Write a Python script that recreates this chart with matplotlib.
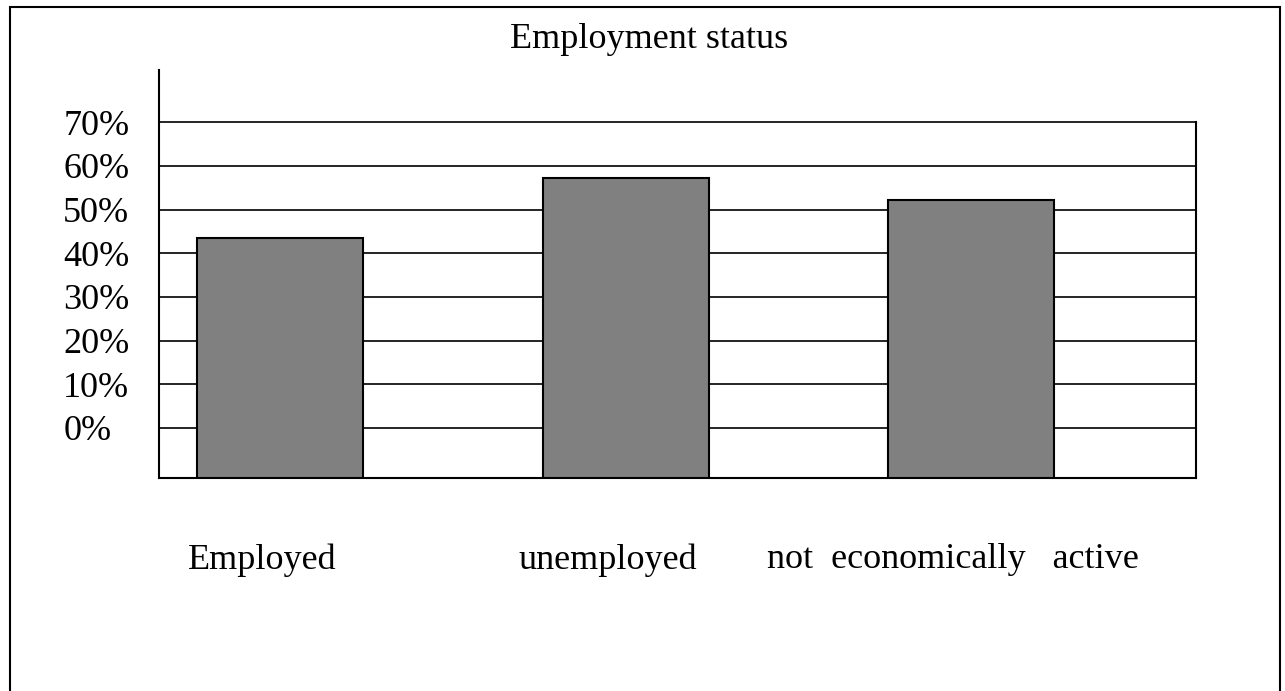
import matplotlib.pyplot as plt
from matplotlib.patches import Rectangle
from matplotlib.transforms import ScaledTranslation

# -----------------------------
# data
# -----------------------------
categories = ["Employed", "unemployed", "not  economically   active"]
shares = [43.5, 57.3, 52.2]  # %
tick_vals = [0, 10, 20, 30, 40, 50, 60, 70]
tick_labels = ["0%", "10%", "20%", "30%", "40%", "50%", "60%", "70%"]

YMIN, YMAX = -11.5, 82.0

plt.rcParams["font.family"] = ["Liberation Serif", "DejaVu Serif"]

fig = plt.figure(figsize=(12.85, 6.91), dpi=100)
ax = fig.add_axes([159 / 1285, 1 - 478 / 691, 1037 / 1285, 408 / 691])

# outer frame around the whole picture
fig.patches.append(Rectangle((10 / 1285, -0.05), 1270 / 1285, 1.05 - 7 / 691,
                             transform=fig.transFigure, fill=False,
                             edgecolor="black", linewidth=1.5))

x = list(range(len(categories)))
ax.bar(x, [v - YMIN for v in shares], bottom=YMIN, width=0.48,
       color="#808080", edgecolor="black", linewidth=1.5, zorder=3)

ax.set_xlim(-0.35, 2.65)
ax.set_ylim(YMIN, YMAX)

ax.set_yticks(tick_vals)
ax.set_yticklabels(tick_labels, ha="left")
ax.tick_params(axis="y", length=0, pad=69, labelsize=26)
ax.set_xticks(x)
ax.set_xticklabels(categories)
ax.tick_params(axis="x", length=0, pad=47, labelsize=26)

# category labels sit a bit left of the bar centres
shift = ScaledTranslation(-18 / 100, 0, fig.dpi_scale_trans)
for lbl in ax.get_xticklabels():
    lbl.set_transform(lbl.get_transform() + shift)

ax.grid(axis="y", color="black", linewidth=1.2, zorder=1)
ax.set_axisbelow(True)

ax.spines["top"].set_visible(False)
ax.spines["right"].set_bounds(YMIN, 70)
for s in ("left", "right", "bottom"):
    ax.spines[s].set_linewidth(1.5)

fig.text(649 / 1285, 1 - 40 / 691, "Employment status",
         ha="center", va="center", fontsize=26)

fig.savefig("out.png", dpi=100)
